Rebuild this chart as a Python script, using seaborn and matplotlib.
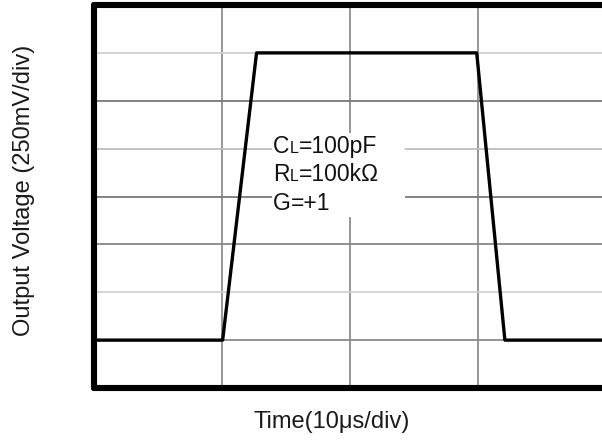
import matplotlib
matplotlib.use("Agg")
import matplotlib.pyplot as plt
from matplotlib.offsetbox import TextArea, HPacker, VPacker, AnnotationBbox
from matplotlib.patches import Rectangle
import seaborn as sns
import pandas as pd

# trace (time in us, voltage in mV)
time_us = [0.0, 10.05, 12.7, 29.9, 32.1, 40.0]
volt_mv = [250, 250, 1750, 1750, 250, 250]

x_div = 10    # us per division
y_div = 250   # mV per division
n_xdiv = 4
n_ydiv = 8

label_lines = [("C", "L", "=100pF"), ("R", "L", "=100k\u03a9"), ("G", "", "=+1")]

df = pd.DataFrame({"t": time_us, "v": volt_mv})

sns.set_style("white")
plt.rcParams["font.family"] = ["Liberation Sans", "DejaVu Sans"]

fig = plt.figure(figsize=(6.02, 4.41), dpi=100)
ax = fig.add_axes([94 / 602, 1 - 388 / 441, 512 / 602, 383 / 441])

ax.set_xlim(0, x_div * n_xdiv)
ax.set_ylim(0, y_div * n_ydiv)
ax.set_xticks([x_div * i for i in range(n_xdiv + 1)])
ax.set_yticks([y_div * i for i in range(n_ydiv + 1)])
ax.tick_params(length=0, labelbottom=False, labelleft=False)
ax.grid(True, color="#8f8f8f", lw=1.3)

# some scope graticule lines came out lighter than others
shades = ["#8f8f8f", "#8a8a8a", "#d2d2d2", "#888888", "#7a7a7a", "#bdbdbd", "#7a7a7a", "#d0d0d0", "#8f8f8f"]
for gl, c in zip(ax.get_ygridlines(), shades):
    gl.set_color(c)

sns.lineplot(data=df, x="t", y="v", ax=ax, color="black", lw=2.4,
             solid_joinstyle="round", zorder=5)

for side in ["left", "top", "bottom"]:
    ax.spines[side].set_visible(True)
    ax.spines[side].set_color("black")
    ax.spines[side].set_linewidth(4.4)
    ax.spines[side].set_capstyle("round")
ax.spines["right"].set_visible(False)

# white patch behind the conditions text
ax.add_patch(Rectangle((13.9, 893), 10.4, 440, facecolor="white",
                       edgecolor="none", zorder=3))

rows = []
for big, small, rest in label_lines:
    parts = [TextArea(big, textprops=dict(fontsize=16.5, color="#111111"))]
    if small:
        parts.append(TextArea(small, textprops=dict(fontsize=11.5, color="#111111")))
    parts.append(TextArea(rest, textprops=dict(fontsize=16.5, color="#111111")))
    rows.append(HPacker(children=parts, align="baseline", pad=0, sep=0))
block = VPacker(children=rows, align="left", pad=0, sep=4)
ab = AnnotationBbox(block, (14.0, 1322), xycoords="data", box_alignment=(0, 1),
                    frameon=False, pad=0)
ab.set_zorder(6)
ax.add_artist(ab)

# seaborn hides the axis labels when tick labels are off, so switch them back on
ax.set_xlabel("Time(10\u03bcs/div)", fontsize=17, color="#1a1a1a", visible=True)
ax.set_ylabel("Output Voltage (250mV/div)", fontsize=17, color="#1a1a1a", visible=True)
ax.xaxis.set_label_coords((331.5 - 94) / 512, (388 - 411) / 383)
ax.yaxis.set_label_coords(-(94 - 35) / 512, (388 - 190) / 383)

fig.savefig("out.png", dpi=100)
